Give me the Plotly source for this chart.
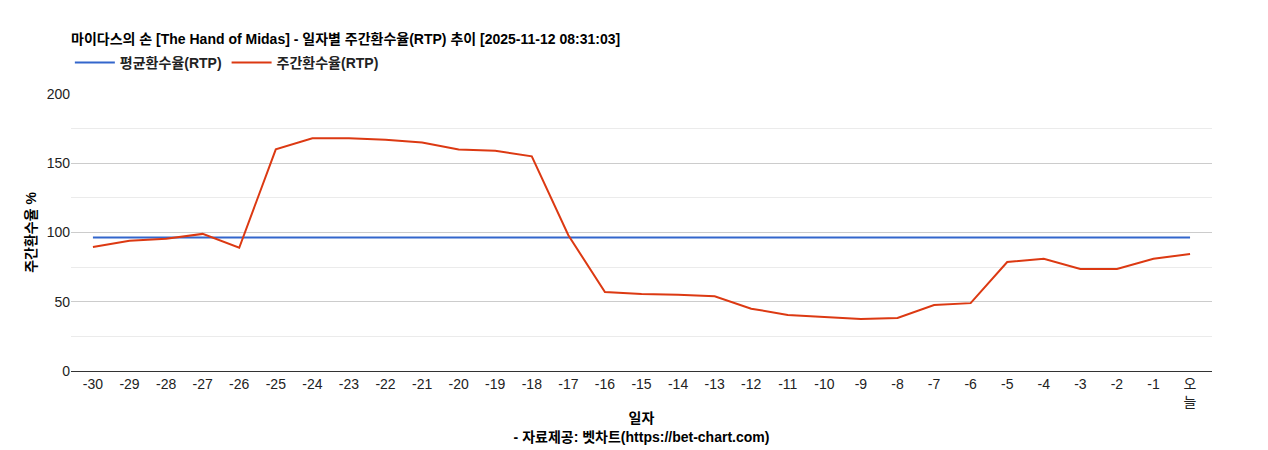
import plotly.graph_objects as go

days = [str(i) for i in range(-30, 0)] + ["오<br>늘"]
weekly_rtp = [89.5, 94, 95.5, 99, 89, 160, 168, 168, 167, 165, 160, 159, 155, 98,
              57, 55.6, 55, 54, 45, 40.5, 39, 37.5, 38.3, 47.7, 49, 78.7, 81, 73.6, 73.6, 81, 84.5]
avg_rtp = [96.4] * len(days)

font = "Liberation Sans, Arial, Noto Sans CJK KR"
fig = go.Figure()
fig.add_trace(go.Scatter(x=days, y=avg_rtp, mode="lines", name="<b>평균환수율(RTP)</b>",
                         line=dict(color="#3366cc", width=2)))
fig.add_trace(go.Scatter(x=days, y=weekly_rtp, mode="lines", name="<b>주간환수율(RTP)</b>",
                         line=dict(color="#dc3912", width=2)))
fig.update_layout(
    width=1268, height=450, plot_bgcolor="white", paper_bgcolor="white",
    font=dict(family=font, size=14, color="#222"),
    margin=dict(l=63, r=64, t=86, b=87, autoexpand=False),
    title=dict(text="<b>마이다스의 손 [The Hand of Midas] - 일자별 주간환수율(RTP) 추이 [2025-11-12 08:31:03]</b>",
               x=63/1268, xanchor="left", y=1-31/450, yanchor="middle", font=dict(size=14, color="#000")),
    legend=dict(orientation="h", x=-0.001, xanchor="left", y=1+(86-55)/277, yanchor="middle",
                font=dict(size=14, color="#222"), itemwidth=40, tracegroupgap=0),
    showlegend=True,
)
fig.update_xaxes(title=dict(text="<b>일자</b><br><b>- 자료제공: 벳차트(https://bet-chart.com)</b>", font=dict(size=14, color="#000"), standoff=4),
                 showline=True, linecolor="#333", showgrid=False, tickangle=0, automargin=False,
                 tickfont=dict(size=14, color="#222"), range=[-0.6, 30.6])
fig.update_yaxes(title=dict(text="<b>주간환수율 %</b>", font=dict(size=14, color="#000"), standoff=6),
                 range=[0, 200], tickvals=[0, 50, 100, 150, 200], gridcolor="#ccc", automargin=False,
                 minor=dict(tickvals=[25, 75, 125, 175], showgrid=True, gridcolor="#ebebeb"),
                 zeroline=False, tickfont=dict(size=14, color="#222"))
fig.write_html("out.html")
